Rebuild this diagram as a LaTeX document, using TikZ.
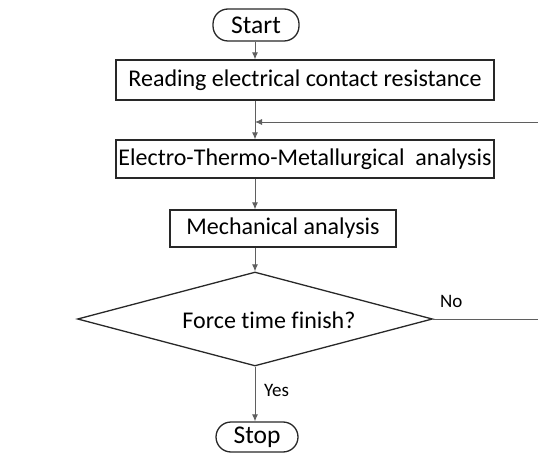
\documentclass[tikz,border=0pt]{standalone}
\usepackage{fontspec}
\setmainfont[Ligatures=NoCommon]{Carlito}
\usetikzlibrary{arrows.meta,positioning,shapes.geometric,calc}
\definecolor{BoxColor}{RGB}{40,40,40}
\definecolor{LineColor}{RGB}{95,95,95}
\tikzset{
  flowbox/.style={draw=BoxColor, line width=1.3pt, rectangle, inner sep=0pt, font=\fontsize{24}{28}\selectfont},
  flowpill/.style={flowbox, rounded corners=15pt, font=\fontsize{25.5}{29}\selectfont},
  decision/.style={draw=BoxColor, line width=1.3pt, diamond, inner sep=0pt, minimum width=355pt, minimum height=94pt},
  flow/.style={draw=LineColor, line width=0.9pt},
  branchlabel/.style={font=\fontsize{19}{22}\selectfont, inner sep=0pt},
}

\begin{document}
\begin{tikzpicture}[x=1pt, y=-1pt, >={Latex[length=7pt,width=6pt]}]
  \useasboundingbox (0,0) rectangle (538,457);
  % process chain
  \node[flowpill, minimum width=86pt, minimum height=32pt] (start) at (256,25) {Start};
  \node[flowbox, minimum width=378pt, minimum height=40pt] (read) at (305,80) {Reading electrical contact resistance};
  \node[flowbox, minimum width=378pt, minimum height=38pt] (ethm) at (305,159) {Electro-Thermo-Metallurgical\ \ analysis};
  \node[flowbox, minimum width=226pt, minimum height=37pt] (mech) at (283,228.5) {Mechanical analysis};
  \node[decision] (check) at (255,319) {};
  \node[font=\fontsize{24}{28}\selectfont, inner sep=0pt] (checktext) at (269,320) {Force time finish?};
  \node[flowpill, minimum width=82pt, minimum height=30pt] (stop) at (257,437) {Stop};

  % loop ends leave the picture on the right
  \coordinate (loopin) at (538,122);
  \coordinate (loopout) at (538,319);

  \draw[flow, ->] (start.south -| check) -- (read.north -| check);
  \draw[flow, ->] (read.south -| check) -- (ethm.north -| check);
  \draw[flow, ->] (loopin) -- (loopin -| check);
  \draw[flow, ->] (ethm.south -| check) -- (mech.north -| check);
  \draw[flow, ->] (mech.south -| check) -- (check.north);
  \draw[flow, ->] (check.south) -- (stop.north -| check);
  \draw[flow] (check.east) -- (loopout);

  \node[branchlabel, anchor=west] (nolabel) at (440,301) {No};
  \node[branchlabel, anchor=west] (yeslabel) at (264,390) {Yes};
\end{tikzpicture}
\end{document}
